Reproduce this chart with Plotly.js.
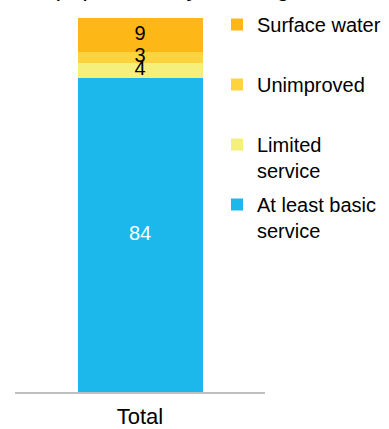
<!DOCTYPE html>
<html><head><meta charset="utf-8">
<script src="https://cdn.plot.ly/plotly-3.0.1.min.js"></script>
<style>html,body{margin:0;padding:0;background:#fff;}#chart{width:389px;height:429px;}</style>
</head><body><div id="chart"></div>
<script>
var categories = ['Total'];
var serviceLevels = ['At least basic service', 'Limited service', 'Unimproved', 'Surface water'];
var legendNames = ['At least basic<br>service', 'Limited<br>service', 'Unimproved<br>&nbsp;', 'Surface water<br>&nbsp;'];
var values = [[84], [4], [3], [9]];
var colors = ['#1CB7EB', '#F5EF7B', '#FED43E', '#FDB716'];
var labelColors = ['#FFFFFF', '#000000', '#000000', '#000000'];
var titleText = 'Total population by drinking water service level';

var FONT = 'Arial, "Liberation Sans", sans-serif';
var n = serviceLevels.length;
var traces = serviceLevels.map(function(s, i) {
  return {
    type: 'bar', x: categories, y: values[i], name: legendNames[i],
    legendgroup: 'g' + i, legendrank: n - i,
    marker: {color: colors[i], line: {width: 0}},
    hoverinfo: 'none', width: 0.5
  };
});
// data labels drawn above all bars, at the middle of each stacked segment
var cum = categories.map(function() { return 0; });
serviceLevels.forEach(function(s, i) {
  var mids = values[i].map(function(v, k) { var m = cum[k] + v / 2; cum[k] += v; return m; });
  traces.push({
    type: 'scatter', mode: 'text', x: categories, y: mids,
    text: values[i].map(String), textposition: 'middle center',
    textfont: {family: FONT, size: 20, color: labelColors[i]},
    showlegend: false, hoverinfo: 'none', cliponaxis: false
  });
});
var layout = {
  width: 389, height: 429,
  margin: {l: 15, r: 124, t: 18, b: 37, autoexpand: false},
  paper_bgcolor: '#fff', plot_bgcolor: '#fff',
  barmode: 'stack',
  font: {family: FONT, size: 20, color: '#000'},
  title: {text: titleText, font: {family: FONT, size: 24, style: 'italic', color: '#000'},
    x: 0, xref: 'container', xanchor: 'left', y: 1, yref: 'container', yanchor: 'bottom', pad: {b: 4}},
  xaxis: {showline: true, linecolor: '#BFBFBF', linewidth: 1.5, ticks: '', showgrid: false, zeroline: false,
    ticklabelstandoff: 4, tickfont: {family: FONT, size: 22, color: '#000'}},
  yaxis: {range: [0, 100], visible: false, showgrid: false, zeroline: false},
  showlegend: true,
  legend: {xref: 'container', yref: 'container', x: 217/389, y: 1 - 5/429, xanchor: 'left', yanchor: 'top',
    maxheight: 1, traceorder: 'grouped', tracegroupgap: 5, valign: 'top', bgcolor: 'rgba(0,0,0,0)',
    font: {family: FONT, size: 20, color: '#000'}}
};
Plotly.newPlot('chart', traces, layout, {staticPlot: true, displayModeBar: false});
</script></body></html>
